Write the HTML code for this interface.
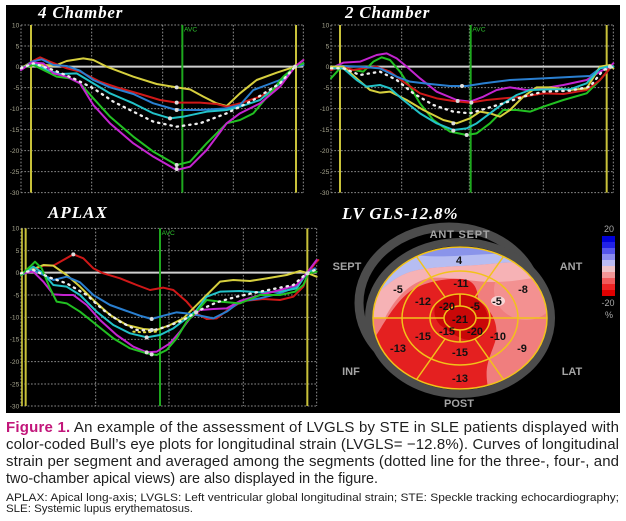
<!DOCTYPE html>
<html>
<head>
<meta charset="utf-8">
<style>
html,body{margin:0;padding:0;background:#fff;}
svg{display:block;}
</style>
</head>
<body>
<svg width="626" height="521" viewBox="0 0 626 521" xmlns="http://www.w3.org/2000/svg">
<rect x="0" y="0" width="626" height="521" fill="#ffffff"/>
<rect x="6" y="5" width="614" height="408" fill="#000000"/>

<!-- ============ PANEL 1: 4 Chamber ============ -->
<g transform="scale(0.333333)">
  <g stroke="#8a8a8a" stroke-width="3" stroke-dasharray="5 5" fill="none">
    <line x1="63" y1="75" x2="910" y2="75"/>
    <line x1="63" y1="138" x2="910" y2="138"/>
    <line x1="63" y1="263" x2="910" y2="263"/>
    <line x1="63" y1="326" x2="910" y2="326"/>
    <line x1="63" y1="389" x2="910" y2="389"/>
    <line x1="63" y1="452" x2="910" y2="452"/>
    <line x1="63" y1="515" x2="910" y2="515"/>
    <line x1="63" y1="578" x2="910" y2="578"/>
    <line x1="63" y1="75" x2="63" y2="578"/>
    <line x1="275" y1="75" x2="275" y2="578"/>
    <line x1="488" y1="75" x2="488" y2="578"/>
    <line x1="700" y1="75" x2="700" y2="578"/>
    <line x1="910" y1="75" x2="910" y2="578"/>
  </g>
  <line x1="63" y1="200" x2="910" y2="200" stroke="#cfcfcf" stroke-width="6"/>
  <g fill="#a6a48e" font-size="20" text-anchor="end" font-family="Liberation Sans, sans-serif">
    <text x="58" y="82">10</text><text x="58" y="145">5</text><text x="58" y="207">0</text>
    <text x="58" y="270">-5</text><text x="58" y="333">-10</text><text x="58" y="396">-15</text>
    <text x="58" y="459">-20</text><text x="58" y="522">-25</text><text x="58" y="585">-30</text>
  </g>
  <line x1="93" y1="75" x2="93" y2="578" stroke="#c9c23a" stroke-width="6"/>
  <line x1="888" y1="75" x2="888" y2="578" stroke="#c9c23a" stroke-width="6"/>
  <line x1="547" y1="75" x2="547" y2="578" stroke="#1ea81e" stroke-width="6"/>
  <text x="552" y="95" font-size="20" fill="#2ec02e" font-family="Liberation Sans, sans-serif">AVC</text>
  <g fill="none" stroke-width="6" stroke-linejoin="round" stroke-linecap="round">
    <polyline stroke="#d6cf3e" points="63,205 95,185 130,195 165,197 200,183 250,175 280,180 320,200 400,230 470,252 530,262 570,268 610,290 650,310 680,318 720,280 770,240 830,218 885,200 910,195"/>
    <polyline stroke="#d01818" points="63,210 95,185 120,172 150,185 200,205 240,215 300,245 350,262 420,282 480,300 530,308 600,308 650,312 680,320 720,310 780,290 840,260 885,200 910,180"/>
    <polyline stroke="#2a7fd0" points="63,210 95,185 125,178 160,195 200,198 240,212 280,240 330,262 400,282 460,310 530,330 600,330 680,325 720,315 760,270 800,255 840,240 885,200 910,195"/>
    <polyline stroke="#22c2c8" points="63,205 100,190 140,210 180,222 230,220 280,250 330,280 400,310 460,340 510,355 550,350 620,335 680,330 720,320 780,300 840,250 885,200 910,190"/>
    <polyline stroke="#22c022" points="63,205 100,195 140,215 170,230 210,235 240,250 280,295 330,350 400,410 460,455 530,495 570,485 620,430 680,370 720,360 760,340 810,280 850,230 885,200 910,190"/>
    <polyline stroke="#c424d0" points="63,210 95,188 130,190 160,220 200,230 240,250 280,315 330,370 400,430 460,470 530,510 570,500 620,450 680,370 720,340 780,310 840,260 885,200 910,180"/>
    <polyline stroke="#eeeeee" stroke-width="7" stroke-dasharray="4 15" points="63,205 100,190 160,210 220,235 280,265 340,305 400,335 460,365 530,380 600,370 680,340 760,300 840,250 885,200"/>
  </g>
  <g fill="#dddddd">
    <circle cx="530" cy="262" r="6"/><circle cx="530" cy="308" r="6"/><circle cx="530" cy="330" r="6"/>
    <circle cx="510" cy="355" r="6"/><circle cx="530" cy="495" r="6"/><circle cx="530" cy="507" r="6"/>
    <circle cx="885" cy="200" r="6"/>
  </g>
</g>
<text x="38" y="18" font-family="Liberation Serif, serif" font-weight="bold" font-style="italic" font-size="17" fill="#ffffff" letter-spacing="0.8">4 Chamber</text>

<!-- ============ PANEL 2: 2 Chamber ============ -->
<g transform="translate(310,0) scale(0.333333)">
  <g stroke="#8a8a8a" stroke-width="3" stroke-dasharray="5 5" fill="none">
    <line x1="63" y1="75" x2="910" y2="75"/>
    <line x1="63" y1="138" x2="910" y2="138"/>
    <line x1="63" y1="263" x2="910" y2="263"/>
    <line x1="63" y1="326" x2="910" y2="326"/>
    <line x1="63" y1="389" x2="910" y2="389"/>
    <line x1="63" y1="452" x2="910" y2="452"/>
    <line x1="63" y1="515" x2="910" y2="515"/>
    <line x1="63" y1="578" x2="910" y2="578"/>
    <line x1="63" y1="75" x2="63" y2="578"/>
    <line x1="275" y1="75" x2="275" y2="578"/>
    <line x1="478" y1="75" x2="478" y2="578"/>
    <line x1="700" y1="75" x2="700" y2="578"/>
    <line x1="910" y1="75" x2="910" y2="578"/>
  </g>
  <line x1="63" y1="200" x2="910" y2="200" stroke="#cfcfcf" stroke-width="6"/>
  <g fill="#a6a48e" font-size="20" text-anchor="end" font-family="Liberation Sans, sans-serif">
    <text x="58" y="82">10</text><text x="58" y="145">5</text><text x="58" y="207">0</text>
    <text x="58" y="270">-5</text><text x="58" y="333">-10</text><text x="58" y="396">-15</text>
    <text x="58" y="459">-20</text><text x="58" y="522">-25</text><text x="58" y="585">-30</text>
  </g>
  <line x1="90" y1="75" x2="90" y2="578" stroke="#c9c23a" stroke-width="6"/>
  <line x1="890" y1="75" x2="890" y2="578" stroke="#c9c23a" stroke-width="6"/>
  <line x1="482" y1="75" x2="482" y2="578" stroke="#1ea81e" stroke-width="6"/>
  <text x="487" y="95" font-size="20" fill="#2ec02e" font-family="Liberation Sans, sans-serif">AVC</text>
  <g fill="none" stroke-width="6" stroke-linejoin="round" stroke-linecap="round">
    <polyline stroke="#c424d0" points="63,205 100,188 150,185 200,165 230,160 260,175 290,200 330,235 380,275 440,300 480,305 520,290 560,270 600,262 650,270 700,265 760,255 830,240 870,215 900,200 910,190"/>
    <polyline stroke="#22c022" points="63,235 90,205 130,210 160,215 190,185 215,172 240,180 270,215 300,260 330,310 370,360 420,395 470,405 500,400 540,370 580,330 620,330 660,335 700,320 760,300 830,280 870,240 900,205 910,200"/>
    <polyline stroke="#d01818" points="63,210 95,200 130,210 160,205 200,200 240,215 280,245 330,280 380,295 430,303 480,308 530,300 580,295 640,290 700,280 760,282 830,270 870,240 900,205"/>
    <polyline stroke="#2a7fd0" points="63,200 100,198 150,200 210,205 260,230 300,245 360,252 420,258 470,258 520,250 600,240 700,235 800,230 840,228 870,205 900,200"/>
    <polyline stroke="#d6cf3e" points="63,200 100,200 140,235 180,270 210,278 240,275 290,300 340,330 400,360 440,370 480,355 510,335 540,340 570,350 600,330 640,290 680,262 720,262 780,270 830,265 870,200 900,195 910,205"/>
    <polyline stroke="#22c2c8" points="63,205 100,205 140,240 170,260 210,255 240,265 280,300 330,340 380,370 430,390 470,385 500,370 540,340 580,310 620,285 660,270 720,268 780,268 830,250 870,205 900,198 910,200"/>
    <polyline stroke="#eeeeee" stroke-width="7" stroke-dasharray="4 15" points="63,205 100,205 150,225 210,215 260,240 310,280 370,315 430,335 480,340 530,325 580,310 640,290 700,275 780,272 840,260 880,210 910,200"/>
  </g>
  <g fill="#dddddd">
    <circle cx="456" cy="258" r="6"/><circle cx="443" cy="303" r="6"/><circle cx="484" cy="308" r="6"/>
    <circle cx="430" cy="370" r="6"/><circle cx="430" cy="392" r="6"/><circle cx="470" cy="405" r="6"/>
    <circle cx="900" cy="200" r="6"/>
  </g>
</g>
<text x="345" y="18" font-family="Liberation Serif, serif" font-weight="bold" font-style="italic" font-size="17" fill="#ffffff" letter-spacing="0.8">2 Chamber</text>

<!-- ============ PANEL 3: APLAX ============ -->
<g transform="translate(0,195) scale(0.333333)">
  <g stroke="#8a8a8a" stroke-width="3" stroke-dasharray="5 5" fill="none">
    <line x1="63" y1="100" x2="950" y2="100"/>
    <line x1="63" y1="167" x2="950" y2="167"/>
    <line x1="63" y1="300" x2="950" y2="300"/>
    <line x1="63" y1="367" x2="950" y2="367"/>
    <line x1="63" y1="433" x2="950" y2="433"/>
    <line x1="63" y1="500" x2="950" y2="500"/>
    <line x1="63" y1="567" x2="950" y2="567"/>
    <line x1="63" y1="633" x2="950" y2="633"/>
    <line x1="63" y1="100" x2="63" y2="633"/>
    <line x1="287" y1="100" x2="287" y2="633"/>
    <line x1="507" y1="100" x2="507" y2="633"/>
    <line x1="730" y1="100" x2="730" y2="633"/>
    <line x1="950" y1="100" x2="950" y2="633"/>
  </g>
  <line x1="63" y1="233" x2="950" y2="233" stroke="#cfcfcf" stroke-width="6"/>
  <g fill="#a6a48e" font-size="20" text-anchor="end" font-family="Liberation Sans, sans-serif">
    <text x="58" y="107">10</text><text x="58" y="174">5</text><text x="58" y="240">0</text>
    <text x="58" y="307">-5</text><text x="58" y="374">-10</text><text x="58" y="440">-15</text>
    <text x="58" y="507">-20</text><text x="58" y="574">-25</text><text x="58" y="640">-30</text>
  </g>
  <line x1="66" y1="100" x2="66" y2="633" stroke="#c9c23a" stroke-width="5"/>
  <line x1="77" y1="100" x2="77" y2="633" stroke="#c9c23a" stroke-width="6"/>
  <line x1="922" y1="100" x2="922" y2="633" stroke="#c9c23a" stroke-width="6"/>
  <line x1="480" y1="100" x2="480" y2="633" stroke="#1ea81e" stroke-width="6"/>
  <text x="485" y="120" font-size="20" fill="#2ec02e" font-family="Liberation Sans, sans-serif">AVC</text>
  <g fill="none" stroke-width="6" stroke-linejoin="round" stroke-linecap="round">
    <polyline stroke="#d01818" points="63,240 100,225 130,212 160,212 190,195 220,178 250,190 280,220 310,235 360,250 410,270 450,285 490,278 520,285 560,320 590,355 620,372 650,370 690,340 730,318 790,312 840,315 880,305 910,275 925,235 945,205 955,195"/>
    <polyline stroke="#d6cf3e" points="63,235 100,222 130,210 160,212 200,240 240,275 280,315 330,360 380,390 430,402 470,405 510,390 550,370 580,340 620,300 660,260 700,255 750,258 800,250 860,240 900,228 925,235 950,245"/>
    <polyline stroke="#2a7fd0" points="63,240 100,225 130,240 160,255 200,245 240,262 280,300 330,330 380,348 420,362 455,372 490,362 530,352 560,355 600,362 640,370 680,350 720,320 780,310 840,295 890,275 920,235 945,220"/>
    <polyline stroke="#22c2c8" points="63,240 100,215 130,235 160,270 200,275 240,300 290,350 340,390 390,415 440,427 480,420 520,400 560,370 590,345 620,305 660,290 720,288 780,292 840,290 890,280 920,235 945,225"/>
    <polyline stroke="#c424d0" points="63,235 100,230 130,260 160,298 190,300 220,300 260,330 300,375 350,420 400,455 440,472 470,470 510,445 540,410 570,370 600,345 640,342 680,340 720,318 780,300 840,285 890,270 920,235 950,195"/>
    <polyline stroke="#22c022" points="63,240 90,215 105,200 125,220 150,280 170,320 200,325 240,350 290,390 340,430 390,460 440,475 470,480 500,465 530,430 560,380 590,350 620,315 660,320 720,325 780,300 840,300 885,290 910,270 925,235 950,230"/>
    <polyline stroke="#eeeeee" stroke-width="7" stroke-dasharray="4 15" points="63,235 100,225 150,248 200,265 260,300 310,345 360,380 410,405 455,407 500,395 550,375 600,345 650,322 710,305 770,292 830,280 880,270 920,235 945,225"/>
    <polyline stroke="#e0d840" stroke-width="6" stroke-dasharray="4 12" points="400,410 430,412 470,410"/>
  </g>
  <g fill="#dddddd">
    <circle cx="220" cy="178" r="6"/><circle cx="455" cy="372" r="6"/><circle cx="455" cy="405" r="6"/>
    <circle cx="440" cy="427" r="6"/><circle cx="440" cy="472" r="6"/><circle cx="455" cy="478" r="6"/>
    <circle cx="588" cy="352" r="6"/><circle cx="922" cy="235" r="6"/>
  </g>
</g>
<text x="48" y="218" font-family="Liberation Serif, serif" font-weight="bold" font-style="italic" font-size="17" fill="#ffffff" letter-spacing="1">APLAX</text>

<!-- ============ PANEL 4: Bull's eye ============ -->
<text x="342" y="219" font-family="Liberation Serif, serif" font-weight="bold" font-style="italic" font-size="17" fill="#ffffff" letter-spacing="0.8">LV GLS-12.8%</text>

<defs>
  <clipPath id="disk"><ellipse cx="460" cy="318" rx="87" ry="71"/></clipPath>
</defs>
<ellipse cx="449" cy="303" rx="90" ry="76" fill="none" stroke="#4c4c4c" stroke-width="9"/>
<ellipse cx="460" cy="318" rx="91" ry="76" fill="none" stroke="#4c4c4c" stroke-width="8"/>

<g clip-path="url(#disk)">
  <rect x="370" y="240" width="182" height="155" fill="#f07e7e"/>
  <ellipse cx="526" cy="290" rx="32" ry="30" fill="#f39a9a" opacity="0.7"/>
  <path d="M370 230 L552 230 L552 258 C530 262 510 262 490 264 C460 267 430 266 410 272 C395 277 382 288 372 300 Z" fill="#b6bdf2"/>
  <path d="M400 230 L530 230 L530 252 C505 254 480 254 455 256 C435 257 420 256 405 254 Z" fill="#8a94ea"/>
  <path d="M372 300 C382 288 395 277 410 272 C430 266 460 267 490 264 C510 262 530 262 552 258 L552 274 C530 279 510 282 495 282 C470 282 450 276 430 278 C410 282 395 298 385 318 L372 318 Z" fill="#f6b2b5"/>
  <path d="M372 342 C385 322 395 302 412 290 C425 282 445 278 462 279 C476 280 478 292 478 300 C492 310 500 325 495 342 C490 358 482 368 490 395 L372 395 Z" fill="#e42020"/>
  <path d="M436 304 C440 296 455 292 470 296 C482 300 490 312 488 325 C486 336 478 340 470 340 C460 340 450 332 440 325 C434 318 433 310 436 304 Z" fill="#c90808"/>
  <ellipse cx="498" cy="301" rx="7" ry="5" fill="#f8d6d6"/>
</g>

<g fill="none" stroke="#f2c21a" stroke-width="1.5">
  <ellipse cx="460" cy="318" rx="87" ry="71"/>
  <ellipse cx="460" cy="318" rx="58" ry="47"/>
  <ellipse cx="460" cy="318" rx="30" ry="24"/>
  <ellipse cx="460" cy="318" rx="16" ry="12"/>
  <line x1="373" y1="318" x2="444" y2="318"/>
  <line x1="476" y1="318" x2="547" y2="318"/>
  <line x1="475" y1="297" x2="503.5" y2="256.5"/>
  <line x1="445" y1="297" x2="416.5" y2="256.5"/>
  <line x1="445" y1="339" x2="416.5" y2="379.5"/>
  <line x1="475" y1="339" x2="503.5" y2="379.5"/>
  <line x1="460" y1="294" x2="460" y2="306"/>
  <line x1="460" y1="330" x2="460" y2="342"/>
</g>

<g font-family="Liberation Sans, sans-serif" font-weight="bold" font-size="11" fill="#111" text-anchor="middle">
  <text x="459" y="264">4</text>
  <text x="398" y="293">-5</text>
  <text x="523" y="293">-8</text>
  <text x="461" y="287">-11</text>
  <text x="423" y="305">-12</text>
  <text x="497" y="305">-5</text>
  <text x="447" y="310">-20</text>
  <text x="475" y="310">-5</text>
  <text x="460" y="323">-21</text>
  <text x="447" y="335">-15</text>
  <text x="475" y="335">-20</text>
  <text x="423" y="340">-15</text>
  <text x="498" y="340">-10</text>
  <text x="398" y="352">-13</text>
  <text x="522" y="352">-9</text>
  <text x="460" y="356">-15</text>
  <text x="460" y="382">-13</text>
</g>

<g font-family="Liberation Sans, sans-serif" font-weight="bold" font-size="11" fill="#a4a4a4" text-anchor="middle">
  <text x="460" y="238" letter-spacing="0.8">ANT SEPT</text>
  <text x="347" y="270">SEPT</text>
  <text x="571" y="270">ANT</text>
  <text x="351" y="375">INF</text>
  <text x="572" y="375">LAT</text>
  <text x="459" y="407">POST</text>
</g>

<!-- colour bar -->
<g>
  <rect x="602" y="236" width="13" height="6" fill="#0000d8"/>
  <rect x="602" y="242" width="13" height="6" fill="#2222e6"/>
  <rect x="602" y="248" width="13" height="6" fill="#5656ec"/>
  <rect x="602" y="254" width="13" height="6" fill="#8c8cf0"/>
  <rect x="602" y="260" width="13" height="6" fill="#bcbcf2"/>
  <rect x="602" y="266" width="13" height="6" fill="#f0c4c8"/>
  <rect x="602" y="272" width="13" height="6" fill="#f29696"/>
  <rect x="602" y="278" width="13" height="6" fill="#f25a5a"/>
  <rect x="602" y="284" width="13" height="6" fill="#ee2424"/>
  <rect x="602" y="290" width="13" height="6" fill="#e00000"/>
</g>
<g font-family="Liberation Sans, sans-serif" font-size="9" fill="#a8a8a8" text-anchor="middle">
  <text x="609" y="232">20</text>
  <text x="608" y="306">-20</text>
  <text x="609" y="318">%</text>
</g>

<!-- ============ CAPTION ============ -->
<g font-family="Liberation Sans, sans-serif" fill="#1e1e1e">
  <text x="6" y="432" font-size="15" textLength="613" lengthAdjust="spacing"><tspan font-weight="bold" fill="#c2167a">Figure 1.</tspan> An example of the assessment of LVGLS by STE in SLE patients displayed with</text>
  <text x="6" y="449" font-size="15" textLength="613" lengthAdjust="spacing">color-coded Bull’s eye plots for longitudinal strain (LVGLS= −12.8%). Curves of longitudinal</text>
  <text x="6" y="466" font-size="15" textLength="613" lengthAdjust="spacing">strain per segment and averaged among the segments (dotted line for the three-, four-, and</text>
  <text x="6" y="483" font-size="15" textLength="372" lengthAdjust="spacingAndGlyphs">two-chamber apical views) are also displayed in the figure.</text>
  <text x="6" y="501" font-size="11" textLength="613" lengthAdjust="spacingAndGlyphs">APLAX: Apical long-axis; LVGLS: Left ventricular global longitudinal strain; STE: Speckle tracking echocardiography;</text>
  <text x="6" y="512" font-size="11" textLength="187" lengthAdjust="spacingAndGlyphs">SLE: Systemic lupus erythematosus.</text>
</g>
</svg>
</body>
</html>
